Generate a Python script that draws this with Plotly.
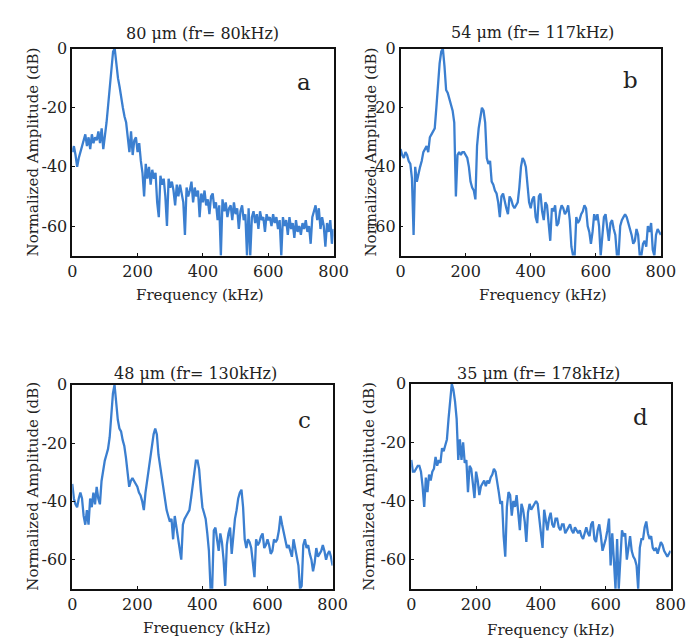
import plotly.graph_objects as go

# ---------------- data ----------------
freq_khz = list(range(0, 801, 5))  # frequency bins, kHz

amp_a = [
    -35, -33, -36, -40, -37, -35, -33, -31, -29, -33,
    -30, -34, -29, -32, -30, -31, -28, -32, -27, -34,
    -30, -25, -19, -13, -6, -1, 0, -6, -10, -13,
    -17, -20, -23, -25, -30, -35, -28, -36, -31, -30,
    -35, -32, -38, -42, -50, -39, -44, -40, -46, -41,
    -44, -42, -52, -57, -43, -46, -44, -50, -60, -44,
    -47, -45, -48, -53, -46, -50, -46, -49, -52, -63,
    -47, -50, -48, -45, -52, -47, -50, -48, -57, -49,
    -52, -48, -53, -51, -56, -50, -49, -54, -52, -58,
    -53, -70, -51, -55, -52, -57, -54, -53, -58, -52,
    -56, -54, -61, -55, -53, -58, -56, -70, -54, -70,
    -57, -55, -59, -56, -61, -55, -58, -57, -62, -56,
    -58, -57, -60, -56, -59, -57, -61, -58, -70, -57,
    -60, -58, -63, -57, -61, -59, -64, -58, -62, -60,
    -63, -59, -61, -58, -62, -60, -66, -57, -55, -53,
    -58, -54, -61, -57, -60, -67, -59, -62, -58, -66,
    -61,
]

amp_b = [
    -34, -36, -37, -35, -36, -38, -39, -44, -63, -40,
    -45, -42, -40, -38, -35, -34, -33, -35, -30, -29,
    -28, -27, -20, -12, -5, -1, 0, -6, -14, -15,
    -17, -19, -21, -25, -50, -36, -35, -36, -35, -35,
    -36, -37, -40, -45, -47, -48, -51, -33, -27, -23,
    -20, -21, -25, -37, -39, -38, -45, -46, -48, -49,
    -52, -57, -50, -49, -52, -54, -56, -50, -51, -53,
    -54, -53, -52, -47, -40, -37, -38, -40, -45, -52,
    -54, -51, -50, -57, -59, -50, -49, -55, -58, -52,
    -53, -60, -65, -54, -55, -53, -60, -59, -55, -53,
    -54, -56, -55, -53, -58, -67, -70, -70, -57, -59,
    -58, -56, -55, -53, -54, -60, -62, -66, -62, -56,
    -58, -56, -60, -70, -62, -57, -56, -60, -65, -59,
    -58, -61, -63, -70, -70, -60, -58, -57, -56, -57,
    -59, -61, -63, -66, -65, -61, -63, -70, -70, -66,
    -65, -67, -60, -62, -59, -68, -70, -63, -61, -62,
    -63,
]

amp_c = [
    -34, -39, -41, -42, -39, -37, -39, -45, -48, -43,
    -48, -39, -42, -37, -41, -35, -39, -41, -33, -29,
    -26, -24, -22, -18, -9, -3, 0, -6, -12, -15,
    -16, -19, -21, -25, -30, -35, -33, -32, -33, -34,
    -35, -37, -38, -40, -43, -37, -32, -29, -25, -20,
    -17, -15, -17, -24, -28, -31, -36, -39, -43, -45,
    -47, -46, -53, -45, -49, -52, -57, -60, -48, -46,
    -45, -44, -43, -39, -34, -29, -26, -26, -29, -36,
    -42, -44, -46, -51, -57, -70, -70, -50, -49, -53,
    -57, -51, -54, -60, -69, -55, -51, -49, -58, -52,
    -46, -43, -39, -37, -36, -42, -53, -56, -53, -54,
    -56, -61, -66, -53, -55, -54, -52, -51, -56, -55,
    -53, -55, -58, -57, -53, -54, -53, -50, -45, -48,
    -51, -54, -56, -55, -57, -59, -53, -56, -60, -62,
    -70, -69, -55, -53, -56, -55, -58, -60, -64, -61,
    -56, -59, -58, -57, -55, -57, -60, -58, -57, -59,
    -62,
]

amp_d = [
    -26, -30, -30, -29, -28, -28, -30, -35, -42, -32,
    -37, -31, -33, -30, -29, -25, -28, -26, -27, -22,
    -23, -21, -19, -12, -5, 0, -2, -6, -12, -26,
    -19, -26, -20, -27, -26, -37, -28, -29, -34, -39,
    -30, -33, -38, -35, -34, -33, -35, -33, -34, -32,
    -31, -29, -30, -33, -37, -41, -40, -52, -59, -42,
    -37, -38, -45, -40, -42, -38, -44, -50, -41, -43,
    -47, -54, -44, -41, -43, -42, -41, -40, -41, -46,
    -53, -56, -43, -47, -50, -46, -44, -48, -49, -46,
    -46, -49, -50, -48, -48, -51, -50, -49, -48, -50,
    -51, -49, -50, -51, -50, -52, -53, -51, -49, -51,
    -52, -48, -47, -53, -54, -50, -48, -52, -57, -55,
    -53, -50, -46, -62, -51, -60, -70, -53, -70, -60,
    -50, -52, -51, -60, -55, -52, -57, -59, -60, -62,
    -70, -56, -53, -53, -49, -47, -51, -53, -52, -56,
    -57, -56, -58, -56, -54, -55, -57, -58, -59, -58,
    -57,
]

panel_titles = ["80 \u03bcm (fr= 80kHz)", "54 \u03bcm (fr= 117kHz)",
                "48 \u03bcm (fr= 130kHz)", "35 \u03bcm (fr= 178kHz)"]
panel_letters = ["a", "b", "c", "d"]
x_tick_vals = [0, 200, 400, 600, 800]
x_tick_text = ["0", "200", "400", "600", "800"]
y_tick_vals = [0, -20, -40, -60]
y_tick_text = ["0", "-20", "-40", "-60"]
x_label = "Frequency (kHz)"
y_label = "Normalized Amplitude (dB)"

# ---------------- layout (pixel geometry of the 698x641 page) ----------------
W, H = 698, 641
# plot boxes: (left, right, top, bottom) in pixels
boxes = [(61, 330, 32, 242), (399, 667, 32, 242),
         (61, 329, 373, 580), (410, 677, 372, 580)]
title_pos = [(195, 17), (535, 16), (188, 362), (541, 362)]
letter_pos = [(300, 66), (636, 64), (300, 409), (646, 406)]
xlab_pos = [(193, 282), (546, 282), (200, 620), (554, 622)]
ylab_pos = [(21, 137), (369, 137), (21, 476), (367, 476)]

line_color = "#3b7fd0"
font_family = "DejaVu Serif"
text_color = "#222222"

fig = go.Figure()
series = [amp_a, amp_b, amp_c, amp_d]
annotations = []
layout_axes = {}
for i, (amp, box) in enumerate(zip(series, boxes)):
    n = i + 1
    xa = "x" if n == 1 else f"x{n}"
    ya = "y" if n == 1 else f"y{n}"
    fig.add_trace(go.Scatter(x=freq_khz, y=amp, mode="lines",
                             line=dict(color=line_color, width=2.3),
                             xaxis=xa, yaxis=ya, showlegend=False,
                             cliponaxis=True))
    l, r, t, b = box
    common = dict(showline=True, mirror=True, linecolor="#111111", linewidth=1.5,
                  showgrid=False, zeroline=False, ticks="inside", ticklen=3,
                  tickcolor="#111111",
                  tickfont=dict(family=font_family, size=16, color=text_color))
    layout_axes["xaxis" if n == 1 else f"xaxis{n}"] = dict(
        domain=[l / W, r / W], range=[0, 800], tickvals=x_tick_vals,
        ticktext=x_tick_text, anchor=ya, **common)
    layout_axes["yaxis" if n == 1 else f"yaxis{n}"] = dict(
        domain=[1 - b / H, 1 - t / H], range=[-70, 0], tickvals=y_tick_vals,
        ticktext=y_tick_text, anchor=xa, **common)

    tx, ty = title_pos[i]
    annotations.append(dict(text=panel_titles[i], x=tx / W, y=1 - ty / H,
                            xref="paper", yref="paper", showarrow=False,
                            xanchor="center", yanchor="middle",
                            font=dict(family=font_family, size=16, color=text_color)))
    lx, ly = letter_pos[i]
    annotations.append(dict(text=panel_letters[i], x=lx / W, y=1 - ly / H,
                            xref="paper", yref="paper", showarrow=False,
                            xanchor="center", yanchor="middle",
                            font=dict(family=font_family, size=23, color=text_color)))
    fx, fy = xlab_pos[i]
    annotations.append(dict(text=x_label, x=fx / W, y=1 - fy / H,
                            xref="paper", yref="paper", showarrow=False,
                            xanchor="center", yanchor="middle",
                            font=dict(family=font_family, size=15, color=text_color)))
    vx, vy = ylab_pos[i]
    annotations.append(dict(text=y_label, x=vx / W, y=1 - vy / H,
                            xref="paper", yref="paper", showarrow=False,
                            xanchor="center", yanchor="middle", textangle=-90,
                            font=dict(family=font_family, size=15, color=text_color)))

fig.update_layout(width=W, height=H, margin=dict(l=0, r=0, t=0, b=0),
                  paper_bgcolor="white", plot_bgcolor="white",
                  annotations=annotations, **layout_axes)

fig.write_html("out.html")
